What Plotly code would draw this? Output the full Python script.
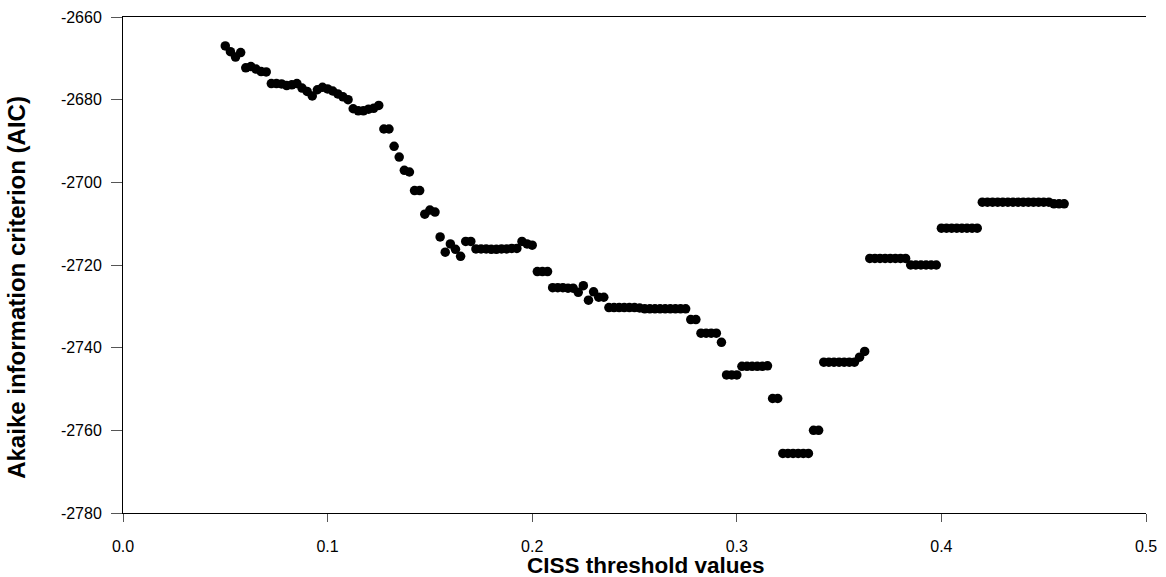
import plotly.graph_objects as go

# CISS threshold grid and the AIC obtained at each threshold
ciss_threshold = [
    0.0500, 0.0525, 0.0550, 0.0575, 0.0600, 0.0625, 0.0650, 0.0675, 0.0700, 0.0725,
    0.0750, 0.0775, 0.0800, 0.0825, 0.0850, 0.0875, 0.0900, 0.0925, 0.0950, 0.0975,
    0.1000, 0.1025, 0.1050, 0.1075, 0.1100, 0.1125, 0.1150, 0.1175, 0.1200, 0.1225,
    0.1250, 0.1275, 0.1300, 0.1325, 0.1350, 0.1375, 0.1400, 0.1425, 0.1450, 0.1475,
    0.1500, 0.1525, 0.1550, 0.1575, 0.1600, 0.1625, 0.1650, 0.1675, 0.1700, 0.1725,
    0.1750, 0.1775, 0.1800, 0.1825, 0.1850, 0.1875, 0.1900, 0.1925, 0.1950, 0.1975,
    0.2000, 0.2025, 0.2050, 0.2075, 0.2100, 0.2125, 0.2150, 0.2175, 0.2200, 0.2225,
    0.2250, 0.2275, 0.2300, 0.2325, 0.2350, 0.2375, 0.2400, 0.2425, 0.2450, 0.2475,
    0.2500, 0.2525, 0.2550, 0.2575, 0.2600, 0.2625, 0.2650, 0.2675, 0.2700, 0.2725,
    0.2750, 0.2775, 0.2800, 0.2825, 0.2850, 0.2875, 0.2900, 0.2925, 0.2950, 0.2975,
    0.3000, 0.3025, 0.3050, 0.3075, 0.3100, 0.3125, 0.3150, 0.3175, 0.3200, 0.3225,
    0.3250, 0.3275, 0.3300, 0.3325, 0.3350, 0.3375, 0.3400, 0.3425, 0.3450, 0.3475,
    0.3500, 0.3525, 0.3550, 0.3575, 0.3600, 0.3625, 0.3650, 0.3675, 0.3700, 0.3725,
    0.3750, 0.3775, 0.3800, 0.3825, 0.3850, 0.3875, 0.3900, 0.3925, 0.3950, 0.3975,
    0.4000, 0.4025, 0.4050, 0.4075, 0.4100, 0.4125, 0.4150, 0.4175, 0.4200, 0.4225,
    0.4250, 0.4275, 0.4300, 0.4325, 0.4350, 0.4375, 0.4400, 0.4425, 0.4450, 0.4475,
    0.4500, 0.4525, 0.4550, 0.4575, 0.4600,
]

aic = [
    -2667.0, -2668.4, -2669.7, -2668.6, -2672.3, -2672.0, -2672.6, -2673.2, -2673.3, -2676.1,
    -2676.1, -2676.2, -2676.6, -2676.4, -2676.1, -2677.2, -2678.0, -2679.1, -2677.6, -2677.0,
    -2677.4, -2677.9, -2678.6, -2679.3, -2680.0, -2682.2, -2682.7, -2682.7, -2682.3, -2682.1,
    -2681.4, -2687.1, -2687.1, -2691.3, -2693.9, -2697.1, -2697.5, -2702.0, -2702.0, -2707.7,
    -2706.7, -2707.2, -2713.2, -2716.9, -2714.9, -2716.2, -2717.9, -2714.3, -2714.3, -2716.1,
    -2716.1, -2716.1, -2716.2, -2716.2, -2716.1, -2716.1, -2716.0, -2716.0, -2714.3, -2714.9,
    -2715.2, -2721.6, -2721.6, -2721.6, -2725.5, -2725.5, -2725.5, -2725.6, -2725.6, -2726.6,
    -2725.0, -2728.5, -2726.5, -2727.8, -2727.8, -2730.3, -2730.3, -2730.3, -2730.3, -2730.3,
    -2730.3, -2730.4, -2730.6, -2730.6, -2730.6, -2730.6, -2730.6, -2730.6, -2730.6, -2730.6,
    -2730.6, -2733.2, -2733.2, -2736.5, -2736.5, -2736.5, -2736.5, -2738.7, -2746.6, -2746.6,
    -2746.6, -2744.5, -2744.5, -2744.5, -2744.5, -2744.5, -2744.4, -2752.3, -2752.3, -2765.6,
    -2765.6, -2765.6, -2765.6, -2765.6, -2765.6, -2760.0, -2760.0, -2743.5, -2743.5, -2743.5,
    -2743.5, -2743.5, -2743.5, -2743.5, -2742.3, -2740.9, -2718.4, -2718.4, -2718.4, -2718.4,
    -2718.4, -2718.4, -2718.4, -2718.4, -2720.0, -2720.0, -2720.0, -2720.0, -2720.0, -2720.0,
    -2711.1, -2711.1, -2711.1, -2711.1, -2711.1, -2711.1, -2711.1, -2711.1, -2704.8, -2704.8,
    -2704.8, -2704.8, -2704.8, -2704.8, -2704.8, -2704.8, -2704.8, -2704.8, -2704.8, -2704.8,
    -2704.8, -2704.8, -2705.2, -2705.2, -2705.2,
]

x_ticks = [0.0, 0.1, 0.2, 0.3, 0.4, 0.5]
x_tick_labels = ['0.0', '0.1', '0.2', '0.3', '0.4', '0.5']
y_ticks = [-2780, -2760, -2740, -2720, -2700, -2680, -2660]
y_tick_labels = ['-2780', '-2760', '-2740', '-2720', '-2700', '-2680', '-2660']

font = 'Liberation Sans, Arial, sans-serif'

trace = go.Scatter(
    x=ciss_threshold, y=aic, mode='markers',
    marker=dict(color='black', size=9.5, line=dict(width=0)),
    showlegend=False,
)

# axis titles as annotations: in the original they sit a little off the axis centre
titles = [
    dict(text='<b>CISS threshold values</b>', xref='paper', yref='paper',
         x=0.511, y=0, yshift=-52, xanchor='center', yanchor='middle',
         showarrow=False, font=dict(size=22.5)),
    dict(text='<b>Akaike information criterion (AIC)</b>', xref='paper', yref='paper',
         x=0, y=0.454, xshift=-106, xanchor='center', yanchor='middle',
         textangle=-90, showarrow=False, font=dict(size=24)),
]

layout = go.Layout(
    width=1166, height=577,
    margin=dict(l=123, r=14, t=9, b=64),
    paper_bgcolor='white', plot_bgcolor='white',
    font=dict(family=font, size=16, color='black'),
    annotations=titles,
    xaxis=dict(
        range=[0, 0.5], tickvals=x_ticks, ticktext=x_tick_labels,
        showgrid=False, zeroline=False,
        showline=True, linecolor='black', linewidth=1, mirror=True,
        ticks='outside', ticklen=8, tickcolor='#555', ticklabelstandoff=11,
    ),
    yaxis=dict(
        range=[-2780, -2660], tickvals=y_ticks, ticktext=y_tick_labels,
        showgrid=False, zeroline=False,
        showline=True, linecolor='black', linewidth=1,
        ticks='outside', ticklen=11, tickcolor='#555', ticklabelstandoff=6,
    ),
)

fig = go.Figure(data=[trace], layout=layout)
# drop the default page margin so the figure sits at the window's top-left corner
fig.write_html('out.html', config={'displayModeBar': False},
               post_script="document.body.style.margin='0';")
